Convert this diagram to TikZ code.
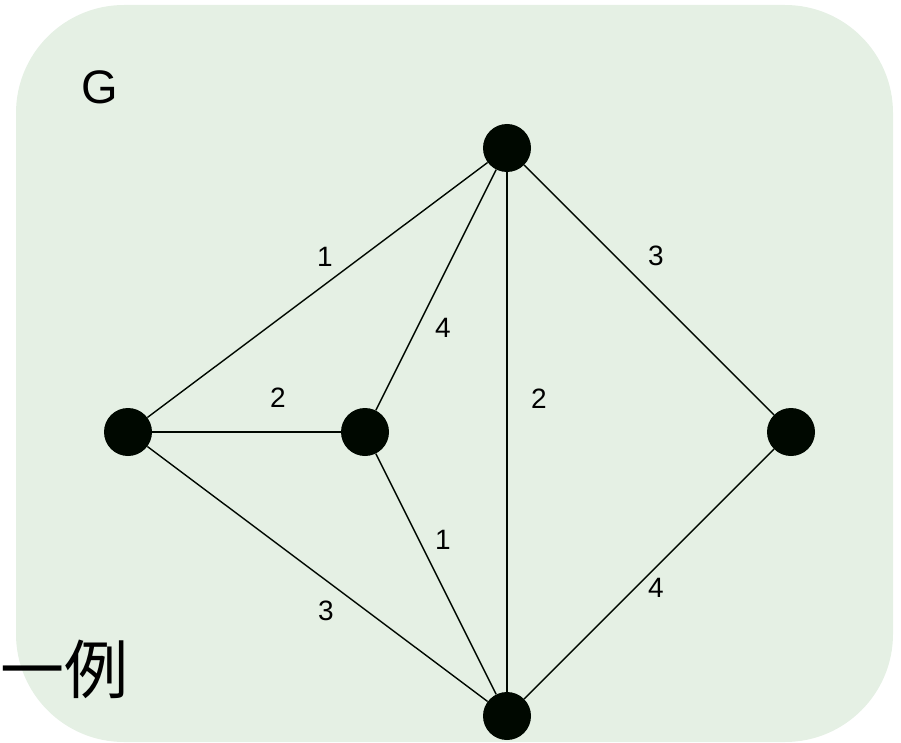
\documentclass[tikz,border=0pt]{standalone}
\usepackage{fontspec}
\setmainfont{Liberation Sans}
\newfontfamily\cjk{Noto Sans CJK JP}
\definecolor{bggreen}{HTML}{E5F0E4}
\definecolor{nodeblack}{HTML}{000800}
\begin{document}
\begin{tikzpicture}[x=1pt,y=-1pt,
  vtx/.style={circle,fill=nodeblack,minimum size=48pt,inner sep=0pt},
  edge/.style={line width=1.4pt,draw=nodeblack},
  wlab/.style={font=\fontsize{28}{28}\selectfont,inner sep=0pt}]
\useasboundingbox (0,0) rectangle (901,743);
\fill[bggreen,rounded corners=108pt] (16,5) rectangle (893,742);
\node[font=\fontsize{47}{47}\selectfont,inner sep=0pt] (g) at (100,87) {G};
\node[font=\cjk\fontsize{64}{64}\selectfont,inner sep=0pt,anchor=west] (ex) at (0,669) {一例};
\node[vtx] (t) at (507,148) {};
\node[vtx] (l) at (128,432) {};
\node[vtx] (m) at (365,432) {};
\node[vtx] (r) at (791,432) {};
\node[vtx] (b) at (507,716) {};
\draw[edge] (l) -- (t);
\draw[edge] (l) -- (m);
\draw[edge] (m) -- (t);
\draw[edge] (t) -- (b);
\draw[edge] (t) -- (r);
\draw[edge] (m) -- (b);
\draw[edge] (l) -- (b);
\draw[edge] (r) -- (b);
\node[wlab] (w1) at (325,257) {1};
\node[wlab] (w2) at (278,398) {2};
\node[wlab] (w3) at (443,328) {4};
\node[wlab] (w4) at (539,399) {2};
\node[wlab] (w5) at (656,256) {3};
\node[wlab] (w6) at (443,540) {1};
\node[wlab] (w7) at (326,611) {3};
\node[wlab] (w8) at (656,588) {4};
\end{tikzpicture}
\end{document}
